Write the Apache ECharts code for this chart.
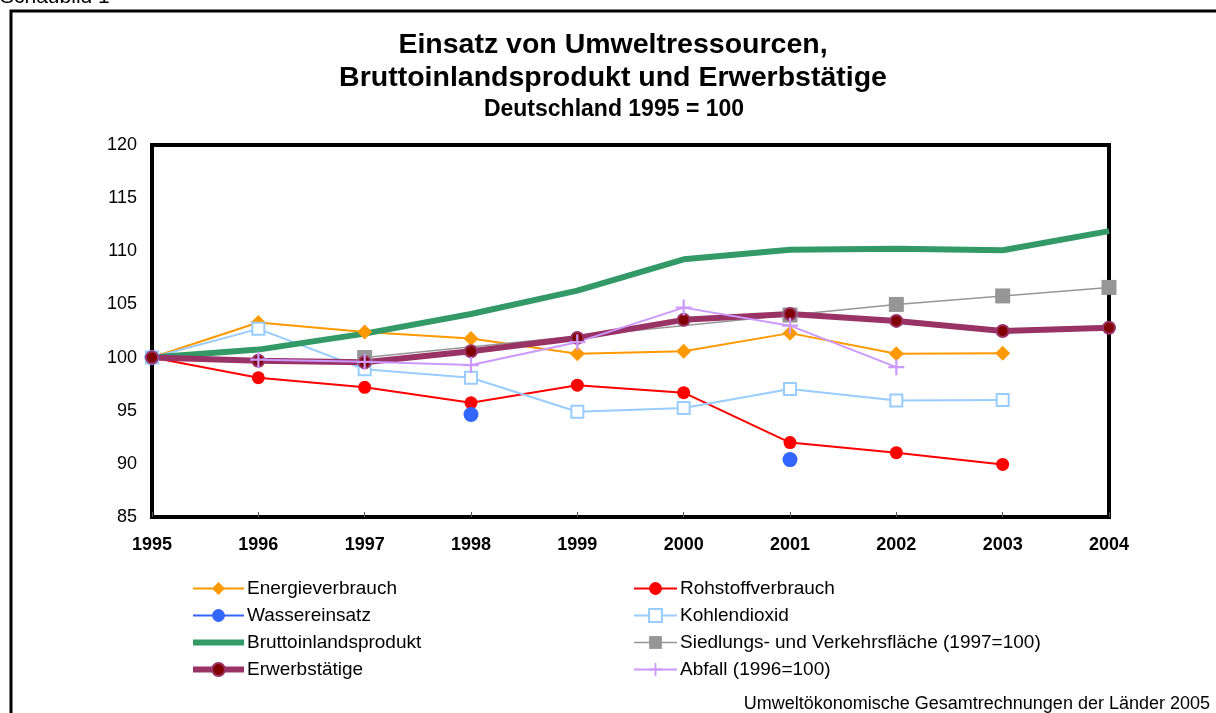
<!DOCTYPE html>
<html>
<head>
<meta charset="utf-8">
<style>
    html, body { margin: 0; padding: 0; background: #fff; }
    #chart { width: 1216px; height: 713px; }
</style>
</head>
<body>
<div id="chart"></div>
<script src="https://cdn.jsdelivr.net/npm/echarts@6/dist/echarts.min.js"></script>
<script>
// Daten (1995 = 100)
var years = ['1995', '1996', '1997', '1998', '1999', '2000', '2001', '2002', '2003', '2004'];
var energie = [100, 103.3, 102.4, 101.8, 100.35, 100.6, 102.3, 100.35, 100.4, null];
var rohstoff = [100, 98.1, 97.2, 95.75, 97.4, 96.7, 92.0, 91.05, 89.95, null];
var wasser = [100, null, null, 94.65, null, null, 90.4, null, null, null];
var kohlendioxid = [100, 102.7, 98.9, 98.1, 94.9, 95.25, 97.05, 95.95, 96.0, null];
var bip = [100, 100.75, 102.25, 104.1, 106.3, 109.25, 110.15, 110.25, 110.1, 111.9];
var siedlung = [null, null, 100, null, null, null, 104.0, 105.0, 105.8, 106.6];
var erwerb = [100, 99.7, 99.55, 100.6, 101.85, 103.55, 104.1, 103.45, 102.5, 102.8];
var abfall = [null, 99.8, 99.6, 99.3, 101.45, 104.7, 103.0, 99.1, null, null];

var chart = echarts.init(document.getElementById('chart'));
var font = '"Liberation Sans", Arial, sans-serif';
var plusPath = 'path://M4.3,0H5.7V4.3H10V5.7H5.7V10H4.3V5.7H0V4.3H4.3Z';

function lineSeries(name, data, color, width, symbol, size, extra) {
    var s = {
        name: name,
        type: 'line',
        data: data,
        symbol: symbol,
        symbolSize: size,
        showAllSymbol: true,
        connectNulls: false,
        lineStyle: { color: color, width: width },
        itemStyle: { color: color },
        emphasis: { disabled: true }
    };
    for (var k in extra) s[k] = extra[k];
    return s;
}

var legendText = { fontSize: 19, lineHeight: 16, color: '#000', fontFamily: font, padding: [0, 0, 0, -2] };

chart.setOption({
    animation: false,
    textStyle: { fontFamily: font },
    graphic: [
        { type: 'rect', shape: { x: 11, y: 11, width: 1230, height: 730 }, style: { fill: 'none', stroke: '#000', lineWidth: 3 } },
        { type: 'text', x: 0, y: -13, style: { text: 'Schaubild 1', font: '21px ' + font, fill: '#000' } },
        { type: 'text', x: 613, y: 45, style: { text: 'Einsatz von Umweltressourcen,', font: 'bold 28.5px ' + font, fill: '#000', align: 'center', verticalAlign: 'middle' } },
        { type: 'text', x: 613, y: 78, style: { text: 'Bruttoinlandsprodukt und Erwerbstätige', font: 'bold 28.5px ' + font, fill: '#000', align: 'center', verticalAlign: 'middle' } },
        { type: 'text', x: 614, y: 110, style: { text: 'Deutschland 1995 = 100', font: 'bold 23px ' + font, fill: '#000', align: 'center', verticalAlign: 'middle' } },
        { type: 'text', x: 1210, y: 704, style: { text: 'Umweltökonomische Gesamtrechnungen der Länder 2005', font: '18px ' + font, fill: '#000', align: 'right', verticalAlign: 'middle' } }
    ],
    grid: { left: 152, right: 107, top: 145, bottom: 196, show: true, borderColor: '#000', borderWidth: 4, backgroundColor: '#fff' },
    legend: [{
        orient: 'vertical', left: 190, top: 579, padding: 0, itemWidth: 51, itemHeight: 16, itemGap: 8,
        lineStyle: { width: 'inherit' },
        textStyle: legendText,
        data: [
            'Energieverbrauch',
            'Wassereinsatz',
            { name: 'Bruttoinlandsprodukt', icon: 'path://M0,0H51V6H0Z' },
            'Erwerbstätige'
        ]
    }, {
        orient: 'vertical', left: 633, top: 579, padding: 0, itemWidth: 43, itemHeight: 16, itemGap: 8,
        lineStyle: { width: 'inherit' },
        textStyle: legendText,
        data: ['Rohstoffverbrauch', 'Kohlendioxid', 'Siedlungs- und Verkehrsfläche (1997=100)', 'Abfall (1996=100)']
    }],
    xAxis: {
        type: 'category', data: years, boundaryGap: false,
        axisLine: { lineStyle: { color: '#000', width: 4 } },
        axisTick: { show: true, inside: true, length: 5, lineStyle: { color: '#555', width: 1 } },
        axisLabel: { fontSize: 18, fontWeight: 'bold', color: '#000', margin: 19, fontFamily: font },
        splitLine: { show: false }
    },
    yAxis: {
        type: 'value', min: 85, max: 120, interval: 5,
        axisLine: { show: true, lineStyle: { color: '#000', width: 4 } },
        axisTick: { show: false },
        axisLabel: { fontSize: 18, color: '#000', margin: 15, fontFamily: font },
        splitLine: { show: false }
    },
    series: [
        lineSeries('Energieverbrauch', energie, '#FF9900', 2, 'diamond', 15),
        lineSeries('Rohstoffverbrauch', rohstoff, '#FF0000', 2, 'circle', 13),
        lineSeries('Wassereinsatz', wasser, '#3366FF', 2, 'circle', 15),
        lineSeries('Kohlendioxid', kohlendioxid, '#99CCFF', 2, 'rect', 12, {
            itemStyle: { color: '#fff', borderColor: '#99CCFF', borderWidth: 2 }
        }),
        lineSeries('Bruttoinlandsprodukt', bip, '#339966', 6, 'none', 0),
        lineSeries('Siedlungs- und Verkehrsfläche (1997=100)', siedlung, '#969696', 1.5, 'rect', 15, { connectNulls: true }),
        lineSeries('Erwerbstätige', erwerb, '#993366', 6, 'circle', 12, {
            itemStyle: { color: '#800000', borderColor: '#993366', borderWidth: 2 }
        }),
        lineSeries('Abfall (1996=100)', abfall, '#CC99FF', 2, plusPath, 16)
    ]
});
</script>
</body>
</html>
